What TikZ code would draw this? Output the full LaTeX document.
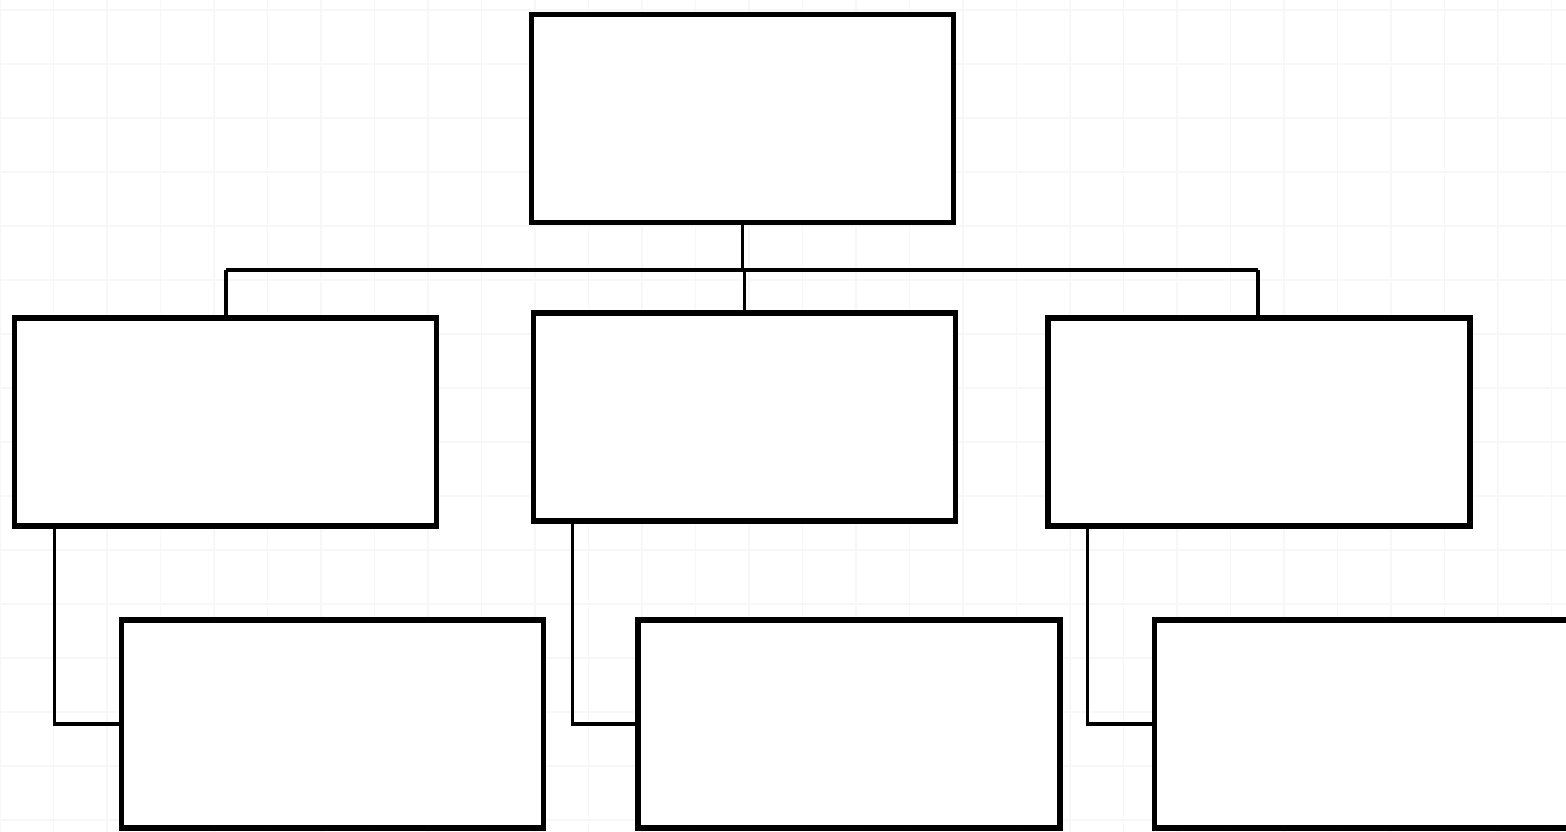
\documentclass[tikz,border=0pt]{standalone}
\begin{document}
\begin{tikzpicture}[x=1pt,y=-1pt,
  box/.style={draw=black, fill=white, line width=5.5pt, rectangle, inner sep=0pt,
    minimum width=422pt, minimum height=208pt},
  conn/.style={draw=black, line width=3.4pt},
  gridline/.style={draw=black!3, line width=1.5pt}]
\useasboundingbox (0,0) rectangle (1566,832);
\clip (0,0) rectangle (1566,832);
\fill[white] (0,0) rectangle (1566,832);
\foreach \i in {0,...,29} {\draw[gridline] ({53.5*\i},0) -- ({53.5*\i},832);}
\foreach \j in {0,...,15} {\draw[gridline] (0,{10+54*\j}) -- (1566,{10+54*\j});}
% nodes
\node[box] (top) at (742.5,118.5) {};
\node[box] (ml) at (225.5,422) {};
\node[box] (mc) at (744.5,417) {};
\node[box] (mr) at (1259,422) {};
\node[box] (bl) at (332.5,724) {};
\node[box] (bc) at (849,724) {};
\node[box] (br) at (1365.5,724) {};
% tree connectors
\coordinate (barL) at (226,270);
\coordinate (barR) at (1258,270);
\draw[conn] (barL) -- (barR);
\draw[conn] (top.south) -- (top.south |- barL);
\draw[conn] (barL) -- (barL |- ml.north);
\draw[conn] (mc.north) -- (mc.north |- barL);
\draw[conn] (barR) -- (barR |- mr.north);
% elbow connectors
\draw[conn] (ml.south west) ++(43,0) |- (bl.west);
\draw[conn] (mc.south west) ++(42,0) |- (bc.west);
\draw[conn] (mr.south west) ++(42,0) |- (br.west);
\end{tikzpicture}
\end{document}
